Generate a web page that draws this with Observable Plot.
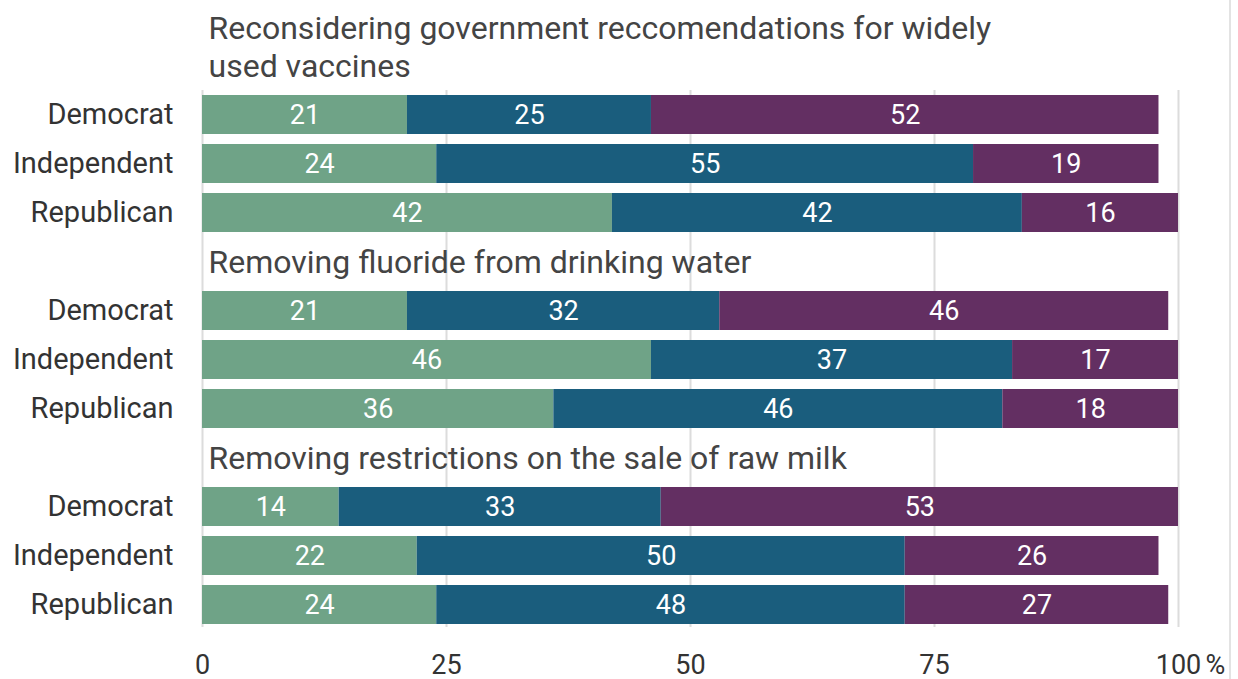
<!DOCTYPE html>
<html>
<head>
<meta charset="utf-8">
<script src="https://cdn.jsdelivr.net/npm/d3@7"></script>
<script src="https://cdn.jsdelivr.net/npm/@observablehq/plot@0.6"></script>
<style>
  html, body { margin: 0; padding: 0; background: #fff; }
  #wrap { position: relative; width: 1238px; height: 679px; }
  #edge { position: absolute; left: 1229px; top: 0; width: 2px; height: 679px; background: #e3e3e3; }
  #wrap svg { position: absolute; left: 0; top: 0; max-width: none !important; }
</style>
</head>
<body>
<div id="wrap"><div id="edge"></div></div>
<script>
const topics = [
  "Reconsidering government reccomendations for widely\nused vaccines",
  "Removing fluoride from drinking water",
  "Removing restrictions on the sale of raw milk"
];
const parties = ["Democrat", "Independent", "Republican"];
const responses = ["Support", "Neither", "Oppose"];
const colors = ["#6fa387", "#1a5d7d", "#632f62"];
// values[party] = [support, neither, oppose]
const vaccines = [[21, 25, 52], [24, 55, 19], [42, 42, 16]];
const fluoride = [[21, 32, 46], [46, 37, 17], [36, 46, 18]];
const rawMilk  = [[14, 33, 53], [22, 50, 26], [24, 48, 27]];
const xTicks = [0, 25, 50, 75, 100];

const valueSets = [vaccines, fluoride, rawMilk];
const slots = [];
const rowSlots = [];
const titles = [];
const data = [];
topics.forEach((t, ti) => {
  const tKey = `t${ti}`;
  slots.push(tKey);
  titles.push({slot: tKey, label: t});
  parties.forEach((p, pi) => {
    const key = `${ti}|${p}`;
    slots.push(key);
    rowSlots.push(key);
    responses.forEach((r, ri) => {
      data.push({slot: key, party: p, response: r, value: valueSets[ti][pi][ri]});
    });
  });
});

const chart = Plot.plot({
  width: 1238,
  height: 679,
  marginLeft: 202,
  marginRight: 60,
  marginTop: 36,
  marginBottom: 45,
  style: {fontFamily: "Roboto, 'Noto Sans', sans-serif", background: "transparent", overflow: "visible"},
  x: {domain: [0, 100]},
  y: {domain: slots, padding: 0.2},
  color: {domain: responses, range: colors},
  marks: [
    Plot.ruleX(xTicks, {stroke: "#dcdcdc", strokeWidth: 2, insetTop: 54, insetBottom: 7}),
    Plot.barX(data, Plot.stackX({x: "value", y: "slot", fill: "response", order: null})),
    Plot.text(data, Plot.stackX({x: "value", y: "slot", text: d => String(d.value), fill: "white", fontSize: 27, order: null})),
    Plot.text(titles, {x: () => 0, y: "slot", text: "label", textAnchor: "start", lineAnchor: "bottom", dx: 6, dy: 11, fontSize: 32, lineHeight: 1.19, fill: "#444"}),
    Plot.axisY(rowSlots, {tickSize: 0, tickPadding: 29, fontSize: 29, color: "#333", tickFormat: d => d.split("|")[1], label: null}),
    Plot.axisX(xTicks, {tickSize: 0, tickPadding: 20, fontSize: 27, color: "#333", label: null, tickFormat: d => String(d)}),
    Plot.text(["%"], {x: () => 100, frameAnchor: "bottom", lineAnchor: "top", dy: 20, dx: 37, fontSize: 27, fill: "#333"})
  ]
});
document.getElementById("wrap").appendChild(chart);
</script>
</body>
</html>
